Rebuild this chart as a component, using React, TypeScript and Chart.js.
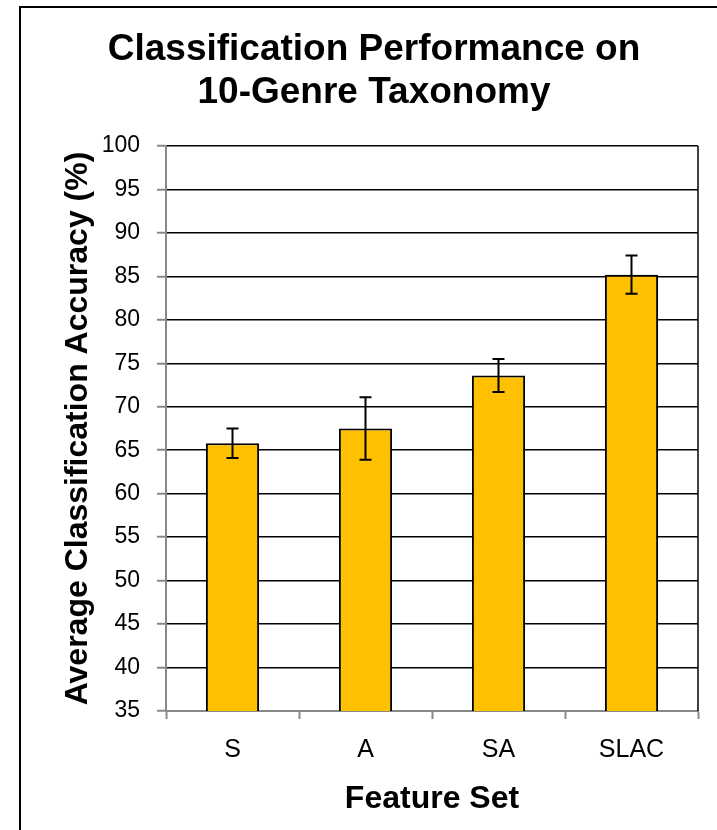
import React, { useEffect, useRef } from "react";
import { Chart, registerables } from "chart.js";

Chart.register(...registerables);

const categories = ["S", "A", "SA", "SLAC"];
const accuracy = [65.8, 67.5, 73.6, 85.2];
const errors = [1.7, 3.6, 1.9, 2.2];
const yMin = 35;
const yMax = 100;
const yStep = 5;
const titleLines = ["Classification Performance on", "10-Genre Taxonomy"];
const xTitle = "Feature Set";
const yTitle = "Average Classification Accuracy (%)";

const FONT = "'Liberation Sans', Arial, sans-serif";

const framePlugin = {
  id: "frame",
  beforeDraw(chart: any) {
    const ctx = chart.ctx;
    ctx.save();
    ctx.fillStyle = "#ffffff";
    ctx.fillRect(0, 0, chart.width, chart.height);
    ctx.strokeStyle = "#000000";
    ctx.lineWidth = 2;
    ctx.strokeRect(20, 7, 2000, 2000);
    ctx.restore();
  },
  afterDatasetsDraw(chart: any) {
    const ctx = chart.ctx;
    const { right, top, bottom } = chart.chartArea;
    ctx.save();
    ctx.strokeStyle = "#000000";
    ctx.lineWidth = 1.5;
    ctx.beginPath();
    ctx.moveTo(right, top);
    ctx.lineTo(right, bottom);
    ctx.stroke();
    const meta = chart.getDatasetMeta(0);
    const y = chart.scales.y;
    ctx.lineWidth = 2;
    meta.data.forEach((bar: any, i: number) => {
      const x = bar.x;
      const t = y.getPixelForValue(accuracy[i] + errors[i]);
      const b = y.getPixelForValue(accuracy[i] - errors[i]);
      ctx.beginPath();
      ctx.moveTo(x, t);
      ctx.lineTo(x, b);
      ctx.moveTo(x - 6, t);
      ctx.lineTo(x + 6, t);
      ctx.moveTo(x - 6, b);
      ctx.lineTo(x + 6, b);
      ctx.stroke();
    });
    ctx.restore();
  },
};

export default function App() {
  const ref = useRef<HTMLCanvasElement | null>(null);
  useEffect(() => {
    if (!ref.current) return;
    Chart.defaults.font.family = FONT;
    Chart.defaults.color = "#000000";
    const chart = new Chart(ref.current, {
      type: "bar",
      data: {
        labels: categories,
        datasets: [
          {
            data: accuracy,
            backgroundColor: "#FFC000",
            borderColor: "#000000",
            borderWidth: 2,
            borderSkipped: false,
            categoryPercentage: 1,
            barPercentage: 0.4,
          },
        ],
      },
      options: {
        responsive: false,
        animation: false,
        devicePixelRatio: 1,
        layout: { padding: { left: 50, right: 19, top: 0, bottom: 0 } },
        plugins: {
          legend: { display: false },
          tooltip: { enabled: false },
          title: {
            display: true,
            text: titleLines,
            color: "#000000",
            font: { family: FONT, size: 37, weight: "bold", lineHeight: 1.162 },
            padding: { top: 28, bottom: 32 },
          },
        },
        scales: {
          x: {
            type: "category",
            offset: true,
            afterFit(scale: any) {
              scale.height = 119;
            },
            grid: {
              offset: true,
              drawOnChartArea: false,
              drawTicks: true,
              tickLength: 8,
              tickColor: "#888888",
              tickWidth: 2,
            },
            border: { color: "#888888", width: 2 },
            ticks: {
              color: "#000000",
              font: { family: FONT, size: 25 },
              padding: 16,
            },
            title: {
              display: true,
              text: xTitle,
              color: "#000000",
              font: { family: FONT, size: 32, weight: "bold" },
              padding: { top: 0, bottom: 12 },
            },
          },
          y: {
            min: yMin,
            max: yMax,
            afterFit(scale: any) {
              scale.width = 116;
            },
            ticks: {
              stepSize: yStep,
              color: "#000000",
              font: { family: FONT, size: 23 },
              padding: 17,
            },
            grid: {
              color: (c: any) => (c.tick && c.tick.value === yMin ? "rgba(0,0,0,0)" : "#000000"),
              lineWidth: 1.5,
              tickLength: 9,
              tickColor: "#888888",
              tickWidth: 2,
            },
            border: { color: "#888888", width: 2 },
            title: {
              display: true,
              text: yTitle,
              color: "#000000",
              font: { family: FONT, size: 32, weight: "bold" },
              padding: { top: 9, bottom: 0 },
            },
          },
        },
      },
      plugins: [framePlugin],
    });
    return () => chart.destroy();
  }, []);
  return (
    <div style={{ position: "absolute", left: 0, top: 0, width: 717, height: 830, overflow: "hidden" }}>
      <canvas ref={ref} width={717} height={830} style={{ display: "block" }} />
    </div>
  );
}
